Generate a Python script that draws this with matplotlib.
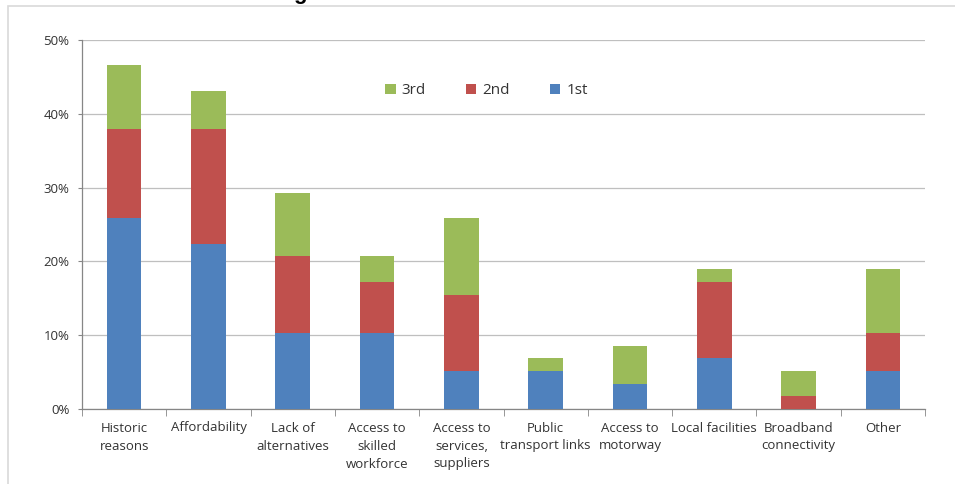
import matplotlib
matplotlib.use("Agg")
import matplotlib.pyplot as plt
import numpy as np
from matplotlib.patches import Rectangle

plt.rcParams['font.family'] = ['Open Sans', 'DejaVu Sans']

categories = ["Historic\nreasons", "Affordability", "Lack of\nalternatives",
              "Access to\nskilled\nworkforce", "Access to\nservices,\nsuppliers",
              "Public\ntransport links", "Access to\nmotorway", "Local facilities",
              "Broadband\nconnectivity", "Other"]
first = [25.9, 22.4, 10.3, 10.3, 5.2, 5.2, 3.4, 6.9, 0.0, 5.2]
second = [12.0, 15.5, 10.4, 6.9, 10.3, 0.0, 0.0, 10.3, 1.7, 5.1]
third = [8.7, 5.2, 8.6, 3.5, 10.4, 1.7, 5.2, 1.8, 3.5, 8.7]
y_ticks = [0, 10, 20, 30, 40, 50]
y_labels = ["0%", "10%", "20%", "30%", "40%", "50%"]

blue, red, green = "#4F81BD", "#C0504D", "#9BBB59"
grid_c = "#BFBFBF"
text_c = "#333333"

fig = plt.figure(figsize=(9.55, 4.84), dpi=100)
# outer chart frame
fig.patches.append(Rectangle((8 / 955, -0.02), 1.1, 1 - 6 / 484 + 0.02,
                             transform=fig.transFigure, fill=False,
                             edgecolor="#D9D9D9", linewidth=1.2))
# heading above the frame (only its lowest stroke falls inside the page)
fig.text(300 / 955, 1 + 1.5 / 484, "g", fontsize=16, fontweight="bold",
         ha="center", va="baseline", color="black", family="Liberation Sans")

ax = fig.add_axes([82 / 955, 1 - 409 / 484, (925 - 82) / 955, (409 - 40) / 484])

x = np.arange(len(categories))
w = 0.41
b1 = ax.bar(x, first, w, color=blue, label="1st", zorder=3)
b2 = ax.bar(x, second, w, bottom=first, color=red, label="2nd", zorder=3)
bottom3 = np.array(first) + np.array(second)
b3 = ax.bar(x, third, w, bottom=bottom3, color=green, label="3rd", zorder=3)

ax.set_xlim(-0.5, len(categories) - 0.5)
ax.set_ylim(0, 50)
ax.set_yticks(y_ticks)
ax.set_yticklabels(y_labels, fontsize=9.5, color=text_c)
ax.yaxis.grid(True, color=grid_c, linewidth=0.9, zorder=0)
ax.tick_params(axis='y', length=3, color="#868686", pad=6)

ax.set_xticks(x)
ax.set_xticklabels(categories, fontsize=9.5, color=text_c, linespacing=1.5, va='top')
ax.tick_params(axis='x', length=0, pad=9)
ax.set_xticks(np.arange(-0.5, len(categories)), minor=True)
ax.tick_params(axis='x', which='minor', length=5, color="#868686")

for s in ["top", "right"]:
    ax.spines[s].set_visible(False)
for s in ["left", "bottom"]:
    ax.spines[s].set_color("#868686")
    ax.spines[s].set_linewidth(0.9)

ax.legend(handles=[b3, b2, b1], loc="upper left", bbox_to_anchor=(0.343, 0.92),
          ncol=3, frameon=False, fontsize=11, handlelength=0.7, handleheight=0.7,
          columnspacing=2.6, handletextpad=0.4, labelcolor=text_c)

fig.savefig("out.png", dpi=100)
